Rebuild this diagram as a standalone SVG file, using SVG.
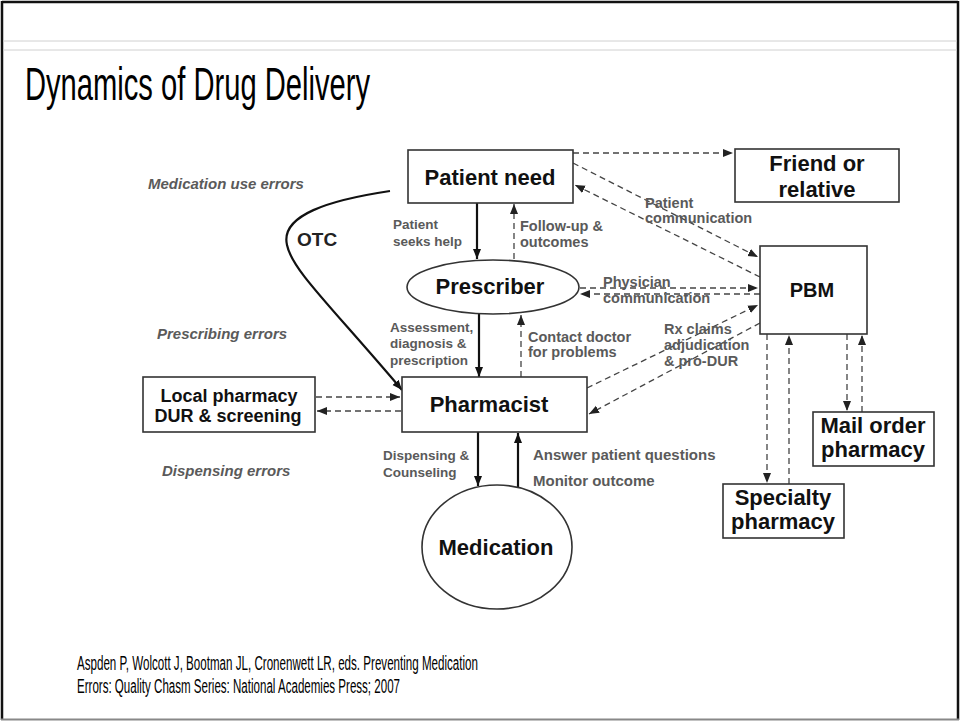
<svg xmlns="http://www.w3.org/2000/svg" width="960" height="721" viewBox="0 0 960 721">
<defs>
<marker id="ah" markerUnits="userSpaceOnUse" markerWidth="10" markerHeight="10" viewBox="0 0 10 10" refX="10" refY="5" orient="auto"><path d="M0,1 L10,5 L0,9 Z" fill="#111"/></marker>
<marker id="ad" markerUnits="userSpaceOnUse" markerWidth="10" markerHeight="10" viewBox="0 0 10 10" refX="10" refY="5" orient="auto"><path d="M0,1 L10,5 L0,9 Z" fill="#222"/></marker>
<style>
.box{fill:#fff;stroke:#333;stroke-width:1.6}
.nt{font-family:"Liberation Sans",Arial,sans-serif;font-weight:bold;font-size:22px;fill:#111;text-anchor:middle}
.lb{font-family:"Liberation Sans",Arial,sans-serif;font-weight:bold;font-size:14.5px;fill:#5a5a5a}
.sm{font-size:13.5px}
.it{font-family:"Liberation Sans",Arial,sans-serif;font-weight:bold;font-style:italic;font-size:15px;fill:#5a5a5a}
.sol{fill:none;stroke:#111;stroke-width:2.2;marker-end:url(#ah)}
.dsh{fill:none;stroke:#444;stroke-width:1.3;stroke-dasharray:6 4;marker-end:url(#ad)}
</style>
</defs>
<rect x="0" y="0" width="960" height="721" fill="#fff"/>
<line x1="2" y1="2" x2="958" y2="2" stroke="#111" stroke-width="2.5"/>
<line x1="2" y1="1" x2="2" y2="720" stroke="#111" stroke-width="2.5"/>
<line x1="958" y1="1" x2="958" y2="720" stroke="#111" stroke-width="2.5"/>
<line x1="1" y1="719.5" x2="959" y2="719.5" stroke="#888" stroke-width="2"/>
<line x1="3" y1="41" x2="957" y2="41" stroke="#d0d0d0" stroke-width="1"/>
<line x1="3" y1="50" x2="957" y2="50" stroke="#d0d0d0" stroke-width="1"/>
<text x="25" y="100" font-family="Liberation Sans,Arial,sans-serif" font-size="46" fill="#000" textLength="345" lengthAdjust="spacingAndGlyphs">Dynamics of Drug Delivery</text>
<text x="77" y="670" font-family="Liberation Sans,Arial,sans-serif" font-size="19.5" fill="#000" textLength="401" lengthAdjust="spacingAndGlyphs">Aspden P, Wolcott J, Bootman JL, Cronenwett LR, eds. Preventing Medication</text>
<text x="77" y="693" font-family="Liberation Sans,Arial,sans-serif" font-size="19.5" fill="#000" textLength="323" lengthAdjust="spacingAndGlyphs">Errors: Quality Chasm Series: National Academies Press; 2007</text>

<g id="connectors">
<path class="sol" d="M477,203 L477,259"/>
<path class="sol" d="M479,314 L479,377"/>
<path class="sol" d="M478,432 L478,486"/>
<path class="sol" d="M518,488 L518,433"/>
<path class="sol" d="M390,191 C330,200 280,215 287,245 C292,270 330,305 402,390"/>
<path class="dsh" d="M573,153 L733,153"/>
<path class="dsh" d="M573,163 L758,257"/>
<path class="dsh" d="M760,277 L575,185"/>
<path class="dsh" d="M514,259 L514,204"/>
<path class="dsh" d="M580,288 L758,288"/>
<path class="dsh" d="M760,294 L580,294"/>
<path class="dsh" d="M521,377 L521,315"/>
<path class="dsh" d="M587,388 L758,305"/>
<path class="dsh" d="M760,323 L589,414"/>
<path class="dsh" d="M316,397 L400,397"/>
<path class="dsh" d="M401,411 L317,411"/>
<path class="dsh" d="M767,334 L767,483"/>
<path class="dsh" d="M789,484 L789,335"/>
<path class="dsh" d="M847,334 L847,411"/>
<path class="dsh" d="M862,412 L862,335"/>
</g>

<g id="patient-need"><rect class="box" x="408" y="150" width="165" height="53"/><text class="nt" x="490" y="185">Patient need</text></g>
<g id="friend"><rect class="box" x="735" y="149" width="164" height="53"/><text class="nt" x="817" y="171">Friend or</text><text class="nt" x="817" y="197">relative</text></g>
<g id="prescriber"><ellipse class="box" cx="493" cy="287" rx="86" ry="27"/><text class="nt" x="490" y="294">Prescriber</text></g>
<g id="pbm"><rect class="box" x="760" y="246" width="107" height="88"/><text class="nt" x="812" y="297" style="font-size:20px">PBM</text></g>
<g id="pharmacist"><rect class="box" x="402" y="377" width="185" height="55"/><text class="nt" x="489" y="412">Pharmacist</text></g>
<g id="local-pharmacy"><rect class="box" x="143" y="377" width="172" height="55"/><text class="nt" x="229" y="402" style="font-size:18px">Local pharmacy</text><text class="nt" x="228" y="422" style="font-size:18px">DUR &amp; screening</text></g>
<g id="medication"><ellipse class="box" cx="497" cy="547" rx="75" ry="62"/><text class="nt" x="496" y="555">Medication</text></g>
<g id="mail-order"><rect class="box" x="813" y="412" width="121" height="54"/><text class="nt" x="873" y="433">Mail order</text><text class="nt" x="873" y="457">pharmacy</text></g>
<g id="specialty"><rect class="box" x="723" y="484" width="121" height="54"/><text class="nt" x="783" y="505">Specialty</text><text class="nt" x="783" y="529">pharmacy</text></g>

<g id="labels">
<text class="it" x="148" y="189">Medication use errors</text>
<text class="it" x="157" y="339">Prescribing errors</text>
<text class="it" x="162" y="476">Dispensing errors</text>
<text x="297" y="246" font-family="Liberation Sans,Arial,sans-serif" font-weight="bold" font-size="19" fill="#222">OTC</text>
<text class="lb sm" x="393" y="229">Patient</text>
<text class="lb sm" x="393" y="246">seeks help</text>
<text class="lb" x="520" y="231">Follow-up &amp;</text>
<text class="lb" x="520" y="247">outcomes</text>
<text class="lb sm" x="390" y="332">Assessment,</text>
<text class="lb sm" x="390" y="348">diagnosis &amp;</text>
<text class="lb sm" x="390" y="365">prescription</text>
<text class="lb" x="528" y="342">Contact doctor</text>
<text class="lb" x="528" y="357">for problems</text>
<text class="lb sm" x="383" y="460">Dispensing &amp;</text>
<text class="lb sm" x="383" y="477">Counseling</text>
<text class="lb" x="533" y="460" style="font-size:15px">Answer patient questions</text>
<text class="lb" x="533" y="486" style="font-size:15px">Monitor outcome</text>
<text class="lb" x="603" y="287">Physician</text>
<text class="lb" x="603" y="303">communication</text>
<text class="lb" x="645" y="208">Patient</text>
<text class="lb" x="645" y="223">communication</text>
<text class="lb" x="664" y="334">Rx claims</text>
<text class="lb" x="664" y="350">adjudication</text>
<text class="lb" x="664" y="366">&amp; pro-DUR</text>
</g>
</svg>
